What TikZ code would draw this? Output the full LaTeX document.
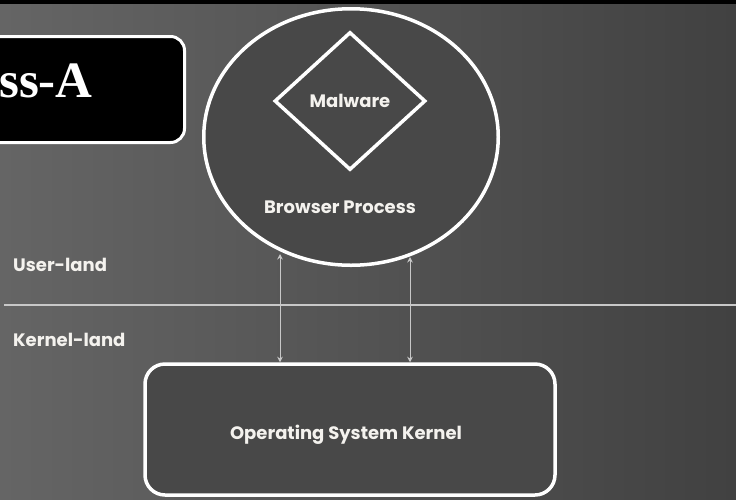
\documentclass[tikz,border=0pt]{standalone}
\usepackage{fontspec}
\setmainfont{Poppins}
\newfontfamily\lblfont{Poppins}
\newfontfamily\headfont{Liberation Serif}
\usepackage{tikz}
\usetikzlibrary{arrows.meta,positioning,shapes.geometric}
\definecolor{bgleft}{HTML}{656565}
\definecolor{bgright}{HTML}{414141}
\definecolor{panelgray}{HTML}{484848}
\definecolor{rulegray}{HTML}{C8C8C8}
\definecolor{textwhite}{HTML}{F4F2EE}

\begin{document}
\begin{tikzpicture}[x=1pt,y=-1pt,
  panel/.style={draw=white,line width=3.5pt,fill=panelgray},
  lbl/.style={text=textwhite,font=\lblfont\bfseries\fontsize{18}{22}\selectfont,inner sep=0pt},
  link/.style={draw=rulegray,line width=1pt,{Stealth[length=5.5pt,width=5.5pt]}-{Stealth[length=5.5pt,width=5.5pt]}}]

  % backdrop
  \clip (0,0) rectangle (736,499);
  \shade[left color=bgleft,right color=bgright] (0,0) rectangle (736,499);
  \fill[black] (0,0) rectangle (736,4);

  % heading tab, runs off the left edge
  \node[draw=white,line width=3pt,fill=black,rounded corners=14pt,
        minimum width=260,minimum height=106] (tab) at (54.5,89.5) {};
  \node[anchor=base east,text=white,inner sep=0pt,
        font=\headfont\bfseries\fontsize{51}{56}\selectfont] (tabtxt) at (93,97) {ss-A};

  % process and kernel
  \node[panel,ellipse,minimum width=294.5,minimum height=256.5] (proc) at (351,137) {};
  \node[draw=white,line width=3.5pt,diamond,minimum width=151,minimum height=138,
        lbl] (mal) at (350,101) {Malware};
  \node[lbl] (procname) at (340,207) {Browser Process};
  \node[panel,rounded corners=20pt,minimum width=410,minimum height=131] (kern) at (350,429.5) {};
  \node[lbl] (kernname) at (346,435) {Operating System Kernel};

  % user / kernel split
  \coordinate (splitl) at (4,305);
  \coordinate (splitr) at (736,305);
  \draw[rulegray,line width=1.3pt] (splitl) -- (splitr);
  \node[lbl,anchor=west] (uland) at (13,265) {User-land};
  \node[lbl,anchor=west] (kland) at (13,340) {Kernel-land};

  % calls across the boundary
  \coordinate (callA) at (280,254);
  \coordinate (callB) at (410,257);
  \draw[link] (callA) -- (callA |- kern.north);
  \draw[link] (callB) -- (callB |- kern.north);

\end{tikzpicture}
\end{document}
